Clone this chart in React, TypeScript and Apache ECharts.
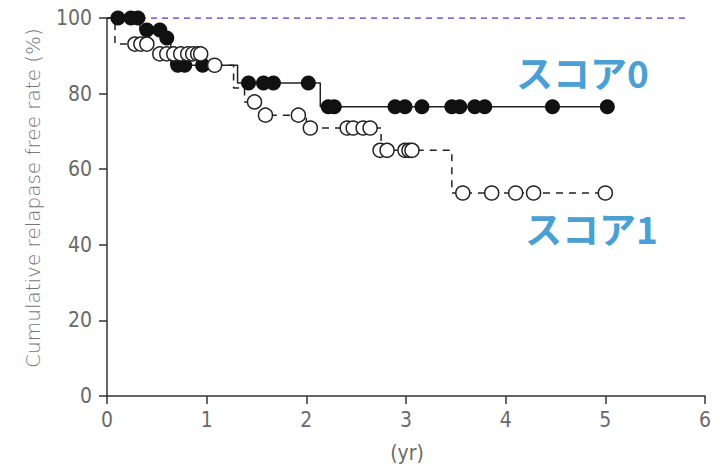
import React, { useEffect, useRef } from "react";
import * as echarts from "echarts";

// Kaplan–Meier step curves (time in years, cumulative relapse-free rate %)
const score0Times = [0, 0.33, 0.56, 0.64, 1.31, 2.14, 5.02];
const score0Rates = [100, 96.8, 94.7, 87.5, 82.8, 76.5, 76.5];
const score1Times = [0, 0.08, 0.47, 1.0, 1.27, 1.38, 1.53, 2.0, 2.75, 3.46, 5.0];
const score1Rates = [100, 93.1, 90.5, 87.5, 81.5, 77.8, 74.3, 70.9, 65.0, 53.7, 53.7];

// Censored observations
const score0CensorTimes = [0.11, 0.24, 0.31, 0.4, 0.53, 0.6, 0.71, 0.78, 0.96, 1.42, 1.57, 1.67, 2.02, 2.22, 2.28, 2.89, 2.99, 3.16, 3.46, 3.54, 3.69, 3.79, 4.47, 5.02];
const score0CensorRates = [100, 100, 100, 96.8, 96.8, 94.7, 87.5, 87.5, 87.5, 82.8, 82.8, 82.8, 82.8, 76.5, 76.5, 76.5, 76.5, 76.5, 76.5, 76.5, 76.5, 76.5, 76.5, 76.5];
const score1CensorTimes = [0.28, 0.34, 0.4, 0.53, 0.6, 0.67, 0.74, 0.81, 0.86, 0.91, 0.94, 1.08, 1.48, 1.59, 1.92, 2.04, 2.41, 2.47, 2.57, 2.64, 2.74, 2.81, 2.99, 3.03, 3.06, 3.57, 3.86, 4.1, 4.28, 5.0];
const score1CensorRates = [93.1, 93.1, 93.1, 90.5, 90.5, 90.5, 90.5, 90.5, 90.5, 90.5, 90.5, 87.5, 77.8, 74.3, 74.3, 70.9, 70.9, 70.9, 70.9, 70.9, 65.0, 65.0, 65.0, 65.0, 65.0, 53.7, 53.7, 53.7, 53.7, 53.7];

// Reference line at 100%
const refTimes = [0, 5.85];
const refRates = [100, 100];

const xTicks = [0, 1, 2, 3, 4, 5, 6];
const yTicks = [0, 20, 40, 60, 80, 100];

const seriesLabels = ["スコア0", "スコア1"];
const yTitle = "Cumulative relapase free rate (%)";
const xTitle = "(yr)";

const zip = (a: number[], b: number[]) => a.map((v, i) => [v, b[i]]);

const labelFont = "'Liberation Sans Narrow', 'DejaVu Sans Condensed', 'Liberation Sans', sans-serif";

export default function App() {
  const ref = useRef<HTMLDivElement>(null);
  useEffect(() => {
    if (!ref.current) return;
    const chart = echarts.init(ref.current, undefined, { renderer: "svg" });
    chart.setOption({
      animation: false,
      backgroundColor: "#ffffff",
      grid: { left: 107, right: 15, top: 18, bottom: 72, containLabel: false },
      xAxis: {
        type: "value",
        min: xTicks[0],
        max: xTicks[xTicks.length - 1],
        interval: 1,
        axisLine: { lineStyle: { color: "#333", width: 1.5 } },
        axisTick: { show: true, length: 8, lineStyle: { color: "#333", width: 1.5 } },
        axisLabel: { color: "#6a6a6a", fontSize: 21, fontFamily: labelFont, margin: 13 },
        splitLine: { show: false },
      },
      yAxis: {
        type: "value",
        min: yTicks[0],
        max: yTicks[yTicks.length - 1],
        interval: 20,
        axisLine: { show: true, lineStyle: { color: "#333", width: 1.5 } },
        axisTick: { show: true, length: 8, lineStyle: { color: "#333", width: 1.5 } },
        axisLabel: { color: "#6a6a6a", fontSize: 21, fontFamily: labelFont, margin: 15 },
        splitLine: { show: false },
      },
      graphic: [
        {
          type: "text",
          x: 33,
          y: 198,
          rotation: Math.PI / 2,
          style: {
            text: yTitle,
            fill: "#777",
            fontSize: 20,
            fontFamily: "'DejaVu Sans', sans-serif",
            fontWeight: 200,
            textAlign: "center",
            textVerticalAlign: "middle",
          },
        },
        {
          type: "text",
          x: 407,
          y: 453,
          style: {
            text: xTitle,
            fill: "#6a6a6a",
            fontSize: 21,
            fontFamily: labelFont,
            textAlign: "center",
            textVerticalAlign: "middle",
          },
        },
        {
          type: "text",
          x: 516,
          y: 72,
          style: {
            text: seriesLabels[0],
            fill: "#4a9fd4",
            fontSize: 37,
            fontWeight: "bold",
            fontFamily: "'Noto Sans CJK JP', sans-serif",
            textAlign: "left",
            textVerticalAlign: "middle",
          },
        },
        {
          type: "text",
          x: 525,
          y: 228,
          style: {
            text: seriesLabels[1],
            fill: "#4a9fd4",
            fontSize: 37,
            fontWeight: "bold",
            fontFamily: "'Noto Sans CJK JP', sans-serif",
            textAlign: "left",
            textVerticalAlign: "middle",
          },
        },
      ],
      series: [
        {
          type: "line",
          data: zip(refTimes, refRates),
          symbol: "none",
          lineStyle: { color: "#6a3cc0", width: 1.5, type: [6, 5] },
          z: 1,
        },
        {
          type: "line",
          step: "end",
          data: zip(score0Times, score0Rates),
          symbol: "none",
          lineStyle: { color: "#222", width: 1.5 },
          z: 2,
        },
        {
          type: "line",
          step: "end",
          data: zip(score1Times, score1Rates),
          symbol: "none",
          lineStyle: { color: "#222", width: 1.5, type: [7, 6] },
          z: 2,
        },
        {
          type: "scatter",
          data: zip(score0CensorTimes, score0CensorRates),
          symbol: "circle",
          symbolSize: 15,
          itemStyle: { color: "#111", opacity: 1 },
          z: 3,
        },
        {
          type: "scatter",
          data: zip(score1CensorTimes, score1CensorRates),
          symbol: "circle",
          symbolSize: 14,
          itemStyle: { color: "#fff", borderColor: "#222", borderWidth: 1.5, opacity: 1 },
          z: 4,
        },
      ],
    });
    return () => chart.dispose();
  }, []);
  return (
    <div
      ref={ref}
      style={{ position: "absolute", left: 0, top: 0, width: 720, height: 468, background: "#fff" }}
    />
  );
}
